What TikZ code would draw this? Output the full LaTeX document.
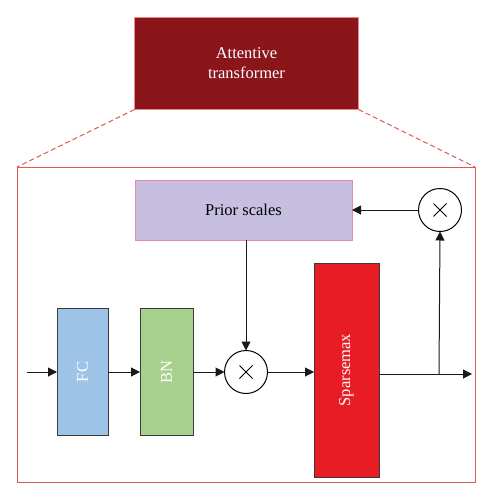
\documentclass[tikz,border=0pt]{standalone}
\usepackage{fontspec}
\setmainfont{Liberation Serif}
\usetikzlibrary{arrows.meta}
\definecolor{topred}{HTML}{8A161B}
\definecolor{frameRed}{HTML}{DC5A55}
\definecolor{lav}{HTML}{C7BFDF}
\definecolor{lavedge}{HTML}{E38AB5}
\definecolor{fcblue}{HTML}{9DC3E6}
\definecolor{bngreen}{HTML}{A9D18E}
\definecolor{spred}{HTML}{E81C24}
\definecolor{edgegray}{HTML}{3A3A3A}
\tikzset{
  blk/.style={draw=edgegray, line width=1pt, inner sep=0pt, outer sep=0pt, text=white,
    font=\fontsize{16.5}{19}\selectfont},
  mult/.style={circle, draw=black, line width=1pt, minimum size=43pt, inner sep=0pt, outer sep=0pt,
    path picture={\draw[line width=1pt] ([xshift=-6.5pt,yshift=-6.5pt]path picture bounding box.center) -- ([xshift=6.5pt,yshift=6.5pt]path picture bounding box.center)
      ([xshift=-6.5pt,yshift=6.5pt]path picture bounding box.center) -- ([xshift=6.5pt,yshift=-6.5pt]path picture bounding box.center);}},
  conn/.style={draw=black!90, line width=1pt, -{Triangle[length=9pt,width=9pt]}},
  zoomline/.style={draw=frameRed, line width=1pt, dash pattern=on 5pt off 3pt}
}
\begin{document}
\begin{tikzpicture}[x=1pt,y=-1pt]
\useasboundingbox (0,0) rectangle (493,500);
% top box
\node[draw=frameRed!70, fill=topred, line width=0.6pt, minimum width=224pt, minimum height=92pt,
  inner sep=0pt, outer sep=0pt, text=white, align=center, font=\fontsize{16.5}{20}\selectfont]
  (top) at (246.5,63.5) {Attentive\\transformer};
% frame
\node[draw=frameRed, line width=1pt, minimum width=458pt, minimum height=315pt, inner sep=0pt, outer sep=0pt]
  (frame) at (246,324.5) {};
\draw[zoomline] (top.south west) -- (frame.north west);
\draw[zoomline] (top.south east) -- (frame.north east);
% prior scales
\node[draw=lavedge, fill=lav, line width=1pt, minimum width=217pt, minimum height=60pt, inner sep=0pt, outer sep=0pt,
  font=\fontsize{16.5}{19}\selectfont] (prior) at (243.5,210) {Prior scales};
\node[mult] (mulA) at (440,210) {};
% main row
\node[blk, fill=fcblue, minimum width=51pt, minimum height=127pt] (fc) at (82.5,372) {\rotatebox{90}{FC}};
\node[blk, fill=bngreen, minimum width=53pt, minimum height=127pt] (bn) at (166.5,372) {\rotatebox{90}{BN}};
\node[mult] (mulB) at (246,372) {};
\node[blk, fill=spred, minimum width=65pt, minimum height=214pt] (sp) at (346.5,370) {\rotatebox{90}{Sparsemax}};
\coordinate (in) at (27,372);
\coordinate (branch) at (439,374);
\coordinate (out) at (472,374);
% connectors
\draw[conn] (in) -- (fc.west);
\draw[conn] (fc.east) -- (bn.west);
\draw[conn] (bn.east) -- (mulB.west);
\draw[conn] (mulB.east) -- (mulB.east -| sp.west);
\draw[conn] (prior.south -| mulB) -- (mulB.north);
\draw[conn] (sp.east |- branch) -- (out);
\draw[conn] (branch) -- (mulA.south);
\draw[conn] (mulA.west) -- (prior.east |- mulA);
\end{tikzpicture}
\end{document}
